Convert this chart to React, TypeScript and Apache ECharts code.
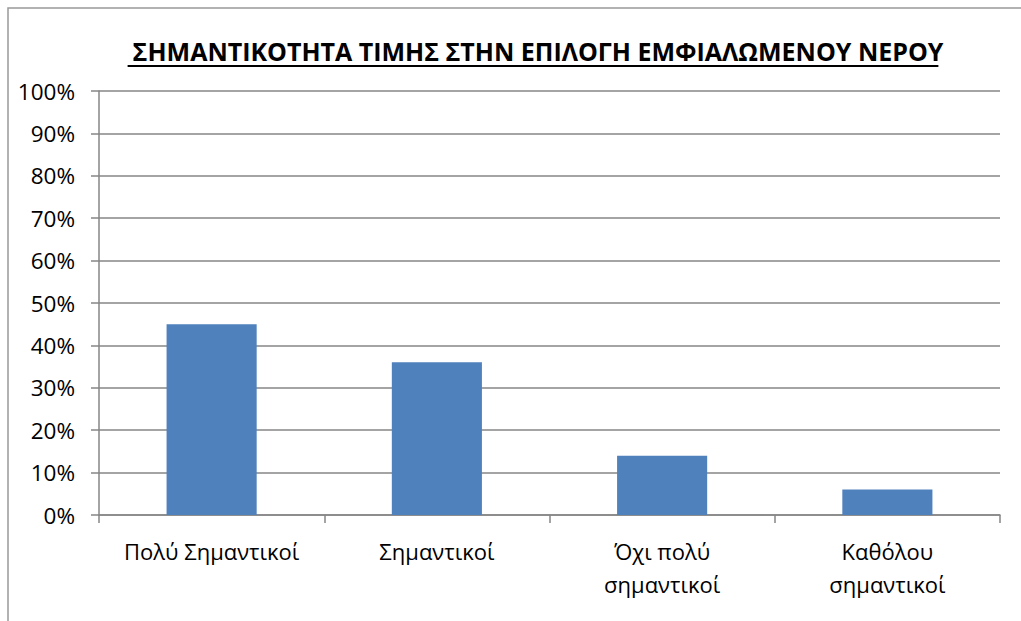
import React, { useEffect, useRef } from "react";
import * as echarts from "echarts";

const categories = ["Πολύ Σημαντικοί", "Σημαντικοί", "Όχι πολύ\nσημαντικοί", "Καθόλου\nσημαντικοί"];
const values = [45, 36, 14, 6];
const yTicks = [0, 10, 20, 30, 40, 50, 60, 70, 80, 90, 100];
const titleText = "ΣΗΜΑΝΤΙΚΟΤΗΤΑ ΤΙΜΗΣ ΣΤΗΝ ΕΠΙΛΟΓΗ ΕΜΦΙΑΛΩΜΕΝΟΥ ΝΕΡΟΥ";

const FONT = "'Open Sans', 'Noto Sans', sans-serif";
const GRAY = "#868686";

export default function App() {
  const ref = useRef<HTMLDivElement>(null);
  useEffect(() => {
    if (!ref.current) return;
    const chart = echarts.init(ref.current, undefined, { renderer: "svg" });
    const titleSize = 25;
    const c = document.createElement("canvas").getContext("2d")!;
    c.font = `bold ${titleSize}px ${FONT}`;
    const tw = c.measureText(titleText).width;
    const cx = 533;
    chart.setOption({
      animation: false,
      backgroundColor: "#fff",
      title: {
        text: titleText,
        left: cx,
        top: 33,
        textAlign: "center",
        textStyle: { fontFamily: FONT, fontSize: titleSize, fontWeight: "bold", color: "#000" },
      },
      graphic: [
        {
          type: "rect",
          shape: { x: 8, y: 8, width: 1200, height: 800 },
          style: { fill: "none", stroke: "#999", lineWidth: 1.5 },
          silent: true,
        },
        {
          type: "line",
          shape: { x1: cx - tw / 2, y1: 66, x2: cx + tw / 2, y2: 66 },
          style: { stroke: "#000", lineWidth: 2 },
        },
      ],
      grid: { left: 99, right: 21, top: 91, bottom: 106 },
      xAxis: {
        type: "category",
        data: categories,
        axisLine: { lineStyle: { color: GRAY, width: 1.5 } },
        axisTick: { show: true, interval: 0, length: 8, lineStyle: { color: GRAY, width: 1.5 } },
        axisLabel: { interval: 0, color: "#000", fontFamily: FONT, fontSize: 22, margin: 19, lineHeight: 33 },
      },
      yAxis: {
        type: "value",
        min: 0,
        max: 100,
        interval: 10,
        axisLine: { show: true, lineStyle: { color: GRAY, width: 1.5 } },
        axisTick: { show: true, length: 8, lineStyle: { color: GRAY, width: 1.5 } },
        splitLine: { lineStyle: { color: GRAY, width: 1.5 } },
        axisLabel: {
          color: "#000",
          fontFamily: FONT,
          fontSize: 22.5,
          margin: 24,
          formatter: (v: number) => (yTicks.includes(v) ? `${v}%` : ""),
        },
      },
      series: [
        {
          type: "bar",
          data: values,
          barWidth: "40%",
          itemStyle: { color: "#4F81BD" },
        },
      ],
    });
    return () => chart.dispose();
  }, []);
  return <div ref={ref} style={{ position: "fixed", left: 0, top: 0, width: 1021, height: 621 }} />;
}
